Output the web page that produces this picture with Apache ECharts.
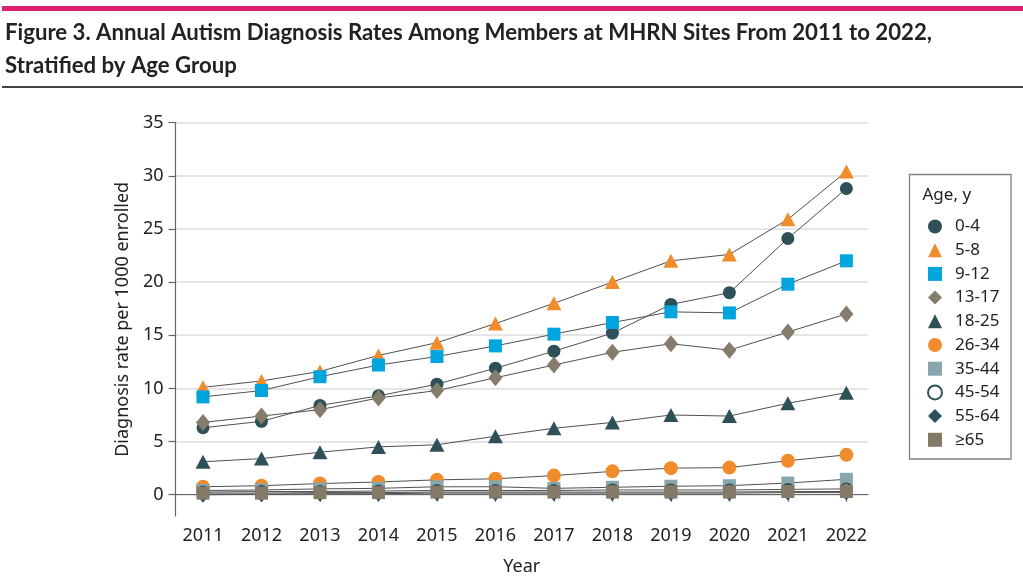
<!DOCTYPE html>
<html>
<head>
<meta charset="utf-8">
<script src="https://cdn.jsdelivr.net/npm/echarts@6/dist/echarts.min.js"></script>
<style>
html,body{margin:0;padding:0;background:#fff;}
#c{width:1023px;height:583px;}
</style>
</head>
<body>
<div id="c"></div>
<script>
var years = [2011,2012,2013,2014,2015,2016,2017,2018,2019,2020,2021,2022];
var yTicks = [0,5,10,15,20,25,30,35];
var ageGroups = ['0-4','5-8','9-12','13-17','18-25','26-34','35-44','45-54','55-64','≥65'];
var age0_4   = [6.3,6.9,8.4,9.3,10.4,11.9,13.5,15.2,17.9,19.0,24.1,28.8];
var age5_8   = [10.1,10.7,11.6,13.1,14.3,16.1,18.0,20.0,22.0,22.6,25.9,30.4];
var age9_12  = [9.2,9.8,11.1,12.2,13.0,14.0,15.1,16.2,17.2,17.1,19.8,22.0];
var age13_17 = [6.8,7.4,8.0,9.1,9.8,11.0,12.2,13.4,14.2,13.6,15.3,17.0];
var age18_25 = [3.1,3.4,4.0,4.5,4.7,5.5,6.25,6.8,7.5,7.4,8.6,9.6];
var age26_34 = [0.75,0.85,1.05,1.2,1.4,1.5,1.8,2.2,2.5,2.55,3.2,3.75];
var age35_44 = [0.4,0.45,0.55,0.6,0.75,0.75,0.6,0.7,0.8,0.85,1.1,1.45];
var age45_54 = [0.25,0.3,0.3,0.35,0.4,0.4,0.4,0.45,0.45,0.45,0.5,0.55];
var age55_64 = [0.0,0.05,0.1,0.1,0.15,0.15,0.15,0.15,0.15,0.15,0.2,0.2];
var age65    = [0.15,0.15,0.2,0.2,0.25,0.25,0.25,0.25,0.25,0.25,0.3,0.3];
var titleLine1 = 'Figure 3. Annual Autism Diagnosis Rates Among Members at MHRN Sites From 2011 to 2022,';
var titleLine2 = 'Stratified by Age Group';

var seriesValues = [age0_4,age5_8,age9_12,age13_17,age18_25,age26_34,age35_44,age45_54,age55_64,age65];
var teal = '#2e5059', orange = '#f08c2c', blue = '#00a5de', taupe = '#867c6b', steel = '#88a6ad', brown = '#847a67';
var styles = [
  {symbol:'circle', size:13, color:teal, icon:'circle'},
  {symbol:'triangle', size:[15,14], color:orange, icon:'triangle'},
  {symbol:'rect', size:13, color:blue, icon:'rect'},
  {symbol:'diamond', size:[14,17], color:taupe, icon:'diamond'},
  {symbol:'triangle', size:[15,14], color:teal, icon:'triangle'},
  {symbol:'circle', size:14, color:orange, icon:'circle'},
  {symbol:'rect', size:13, color:steel, icon:'rect'},
  {symbol:'circle', size:11, color:'#ffffff', border:teal, icon:'circle'},
  {symbol:'diamond', size:[13,16], color:teal, icon:'diamond'},
  {symbol:'rect', size:13, color:brown, icon:'rect'}
];

var series = ageGroups.map(function(name, i){
  var st = styles[i];
  var itemStyle = {color: st.color, opacity: 1};
  if (st.border) { itemStyle.borderColor = st.border; itemStyle.borderWidth = 2; }
  return {
    name: name,
    type: 'line',
    data: years.map(function(y, j){ return [y, seriesValues[i][j]]; }),
    symbol: st.symbol,
    symbolSize: st.size,
    showAllSymbol: true,
    itemStyle: itemStyle,
    lineStyle: {color:'#505050', width:1},
    emphasis: {disabled:true},
    animation: false
  };
});

// fit title font horizontally to the reference width
var titleFont = 'bold 23px Lato, "Noto Sans", sans-serif';
var mctx = document.createElement('canvas').getContext('2d');
mctx.font = titleFont;
var tw = mctx.measureText(titleLine1).width;
var titleScale = 927 / tw;

var font = '"Noto Sans", "Open Sans", sans-serif';
var chart = echarts.init(document.getElementById('c'), null, {renderer:'canvas'});
chart.setOption({
  backgroundColor: '#ffffff',
  animation: false,
  graphic: [
    {type:'rect', shape:{x:2, y:6, width:1021, height:5}, style:{fill:'#dc216e'}, silent:true},
    {type:'text', x:5, y:32.5, scaleX:titleScale, style:{text:titleLine1, font:titleFont, fill:'#222222', verticalAlign:'middle'}, silent:true},
    {type:'text', x:5, y:66, scaleX:titleScale, style:{text:titleLine2, font:titleFont, fill:'#222222', verticalAlign:'middle'}, silent:true},
    {type:'rect', shape:{x:2, y:86, width:1021, height:2}, style:{fill:'#444444'}, silent:true},
    {type:'rect', shape:{x:909.5, y:174.5, width:101.5, height:284.5}, style:{fill:'#ffffff', stroke:'#808080', lineWidth:1.3}, silent:true, z:-1},
    {type:'text', x:922.5, y:195, style:{text:'Age, y', font:'17px "Noto Sans", sans-serif', fill:'#222222', verticalAlign:'middle'}, silent:true}
  ],
  grid: {left:175.5, right:155, top:122.6, bottom:67, containLabel:false},
  legend: {
    orient:'vertical', left:922, top:213,
    itemWidth:14, itemHeight:14, itemGap:6.7,
    data: ageGroups.map(function(n,i){ return {name:n, icon:styles[i].icon}; }),
    textStyle:{fontFamily:font, fontSize:17, color:'#222222', padding:[0,0,0,8]},
    selectedMode:false
  },
  xAxis: {
    type:'value', min:2010.53, max:2022.37,
    name:'Year', nameLocation:'middle', nameGap:42,
    nameTextStyle:{fontFamily:font, fontSize:18, color:'#222222'},
    axisLine:{show:true, lineStyle:{color:'#666666', width:1.2}},
    axisTick:{show:true, customValues:years, length:7, lineStyle:{color:'#666666', width:1.2}},
    axisLabel:{customValues:years, margin:11, fontFamily:font, fontSize:18, color:'#222222', formatter:function(v){return String(v);}},
    splitLine:{show:false}
  },
  yAxis: {
    type:'value', min:-2, max:35,
    name:'Diagnosis rate per 1000 enrolled', nameLocation:'middle', nameGap:43,
    nameTextStyle:{fontFamily:font, fontSize:18, color:'#222222'},
    axisLine:{show:true, lineStyle:{color:'#666666', width:1.2}},
    axisTick:{show:true, customValues:yTicks, length:7, lineStyle:{color:'#666666', width:1.2}},
    axisLabel:{customValues:yTicks, margin:12, fontFamily:font, fontSize:18, color:'#222222'},
    splitLine:{show:true, lineStyle:{color:'#dddddd', width:1.6}}
  },
  series: series
});
</script>
</body>
</html>
